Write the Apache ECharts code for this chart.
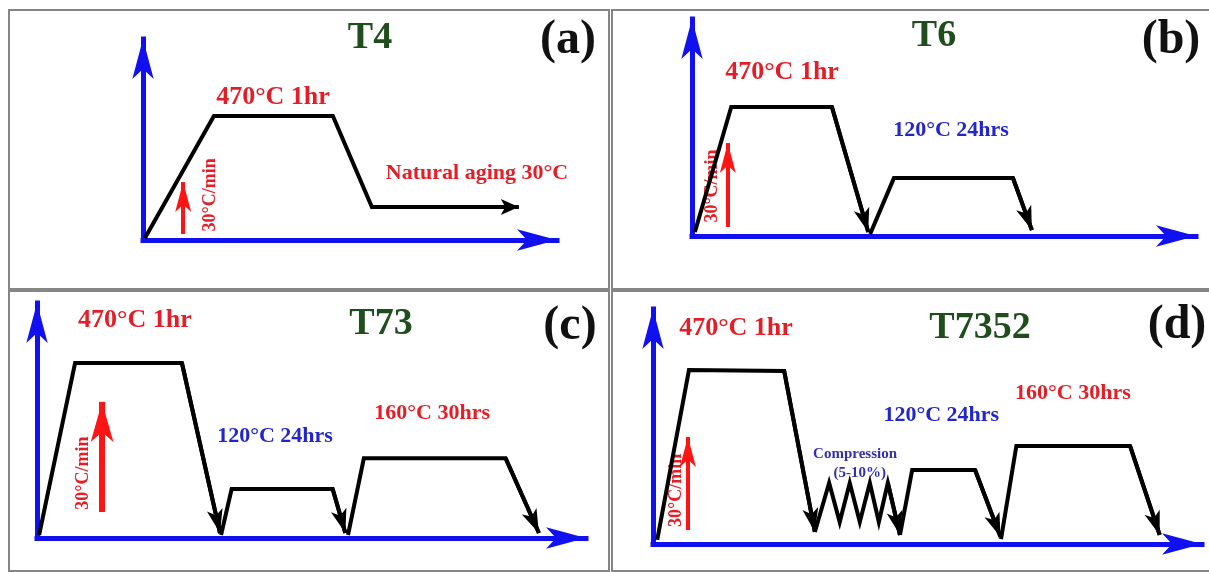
<!DOCTYPE html>
<html><head><meta charset="utf-8">
<script src="https://cdn.jsdelivr.net/npm/echarts@6/dist/echarts.min.js"></script>
<style>html,body{margin:0;padding:0;background:#fff}#c{width:1209px;height:572px}</style>
</head><body><div id="c"></div>
<script>
// ---------------- data (schematic units along each axis) ----------------
const panelNames = ['T4', 'T6', 'T73', 'T7352'];
const panelLetters = ['(a)', '(b)', '(c)', '(d)'];
// axis extents (time, temperature), arrow tip included
const xMax = [105.1, 104.1, 103.8, 103.8];
const yMax = [111.0, 110.2, 109.3, 109.3];

// black heat-treatment strokes (time, temperature); the last point of each stroke is an arrow tip
const strokesA = [
  [[0.5, 1.1], [18.0, 68.5], [48.2, 68.5], [58.1, 18.2], [95.4, 18.2]]
];
const strokesB = [
  [[0.6, 2.0], [8.1, 65.5], [28.9, 65.5], [36.4, 2.0]],
  [[36.8, 1.0], [41.7, 29.4], [66.3, 29.4], [70.2, 3.0]]
];
const strokesC = [
  [[0.4, 1.4], [7.2, 81.4], [27.4, 81.4], [34.6, 2.3]],
  [[34.8, 1.4], [36.8, 22.8], [55.9, 22.8], [58.3, 2.3]],
  [[58.8, 1.4], [61.8, 37.1], [88.6, 37.1], [94.9, 2.3]]
];
const strokesD = [
  [[0.8, 1.9], [6.8, 80.9], [24.8, 80.5], [30.6, 5.6]],
  [[30.6, 5.6], [33.3, 28.4], [35.3, 10.2], [37.2, 28.4], [39.1, 10.2], [41.0, 28.4], [42.7, 10.2], [44.4, 28.4], [46.7, 4.2]],
  [[46.7, 4.2], [49.0, 34.4], [60.9, 34.4], [65.7, 3.3]],
  [[65.8, 2.3], [68.7, 45.6], [90.2, 45.6], [95.8, 4.2]]
];
// red heating-rate arrows: [from, tip]
const rateArrows = [
  [[10.2, 3.3], [10.2, 32.0]],
  [[7.4, 4.6], [7.4, 47.2]],
  [[12.3, 12.1], [12.3, 63.3]],
  [[6.6, 6.5], [6.6, 49.8]]
];
// annotations: [text, time, temperature]
const labelsA = [['470°C 1hr', 33.0, 79.0], ['Natural aging 30°C', 84.8, 37.0], ['30°C/min', 17.0, 24.9]];
const labelsB = [['470°C 1hr', 18.6, 83.2], ['120°C 24hrs', 53.5, 53.8], ['30°C/min', 4.3, 25.4]];
const labelsC = [['470°C 1hr', 18.5, 101.4], ['120°C 24hrs', 45.0, 47.4], ['160°C 30hrs', 74.7, 58.1], ['30°C/min', 8.7, 30.2]];
const labelsD = [['470°C 1hr', 15.7, 100.5], ['120°C 24hrs', 54.5, 60.0], ['160°C 30hrs', 79.4, 70.2],
                 ['Compression', 38.2, 41.9], ['(5-10%)', 39.1, 33.0], ['30°C/min', 4.5, 24.9]];

// ---------------- layout & styles ----------------
const FONT = '"Liberation Serif", "Times New Roman", serif';
const RED = '#e41e26', BLUE_T = '#2226cc', COMP = '#3330b0', GREEN = '#1f4d1c', AXIS = '#1010f0';
const grids = [
  {left: 143, top: 39, width: 414, height: 201},
  {left: 692, top: 19, width: 504, height: 217},
  {left: 37, top: 303, width: 549, height: 235},
  {left: 653, top: 309, width: 549, height: 235}
];
const titlePos = [[370, 38], [934, 36], [381, 324], [980, 328]];
const letterPos = [[568, 41], [1171, 41], [570, 327], [1177, 326]];
const frames = [[9, 10, 600, 279], [612, 10, 600, 279], [9, 291, 600, 280], [612, 291, 600, 280]];

function labelStyle(t) {
  const base = {show: true, position: 'inside', fontFamily: FONT, fontWeight: 'bold', textBorderWidth: 0, opacity: 1, formatter: t};
  if (t === '470°C 1hr') return Object.assign(base, {color: RED, fontSize: 26});
  if (t === '160°C 30hrs') return Object.assign(base, {color: RED, fontSize: 22});
  if (t === 'Natural aging 30°C') return Object.assign(base, {color: RED, fontSize: 22});
  if (t === '120°C 24hrs') return Object.assign(base, {color: BLUE_T, fontSize: 22});
  if (t === '30°C/min') return Object.assign(base, {color: RED, fontSize: 18, rotate: 90});
  return Object.assign(base, {color: COMP, fontSize: 15});
}

const allStrokes = [strokesA, strokesB, strokesC, strokesD];
const allLabels = [labelsA, labelsB, labelsC, labelsD];
const axisLine = {show: true, onZero: false, symbol: ['none', 'arrow'], symbolSize: [16, 40],
  lineStyle: {color: AXIS, width: 5, cap: 'square'}};
const axisCommon = {type: 'value', min: 0, axisLine: axisLine, axisTick: {show: false},
  axisLabel: {show: false}, splitLine: {show: false}};

const series = [];
allStrokes.forEach((strokes, i) => {
  strokes.forEach(s => {
    series.push({type: 'line', xAxisIndex: i, yAxisIndex: i, data: s, symbol: 'none', clip: false, silent: true,
      lineStyle: {color: '#000', width: 4, join: 'miter'}, z: 3});
  });
  series.push({type: 'lines', coordinateSystem: 'cartesian2d', xAxisIndex: i, yAxisIndex: i, silent: true, z: 4,
    data: strokes.map(s => ({coords: [s[s.length - 2], s[s.length - 1]]})),
    symbol: ['none', 'arrow'], symbolSize: [[1, 1], i === 0 ? [12, 18] : [12, 24]],
    lineStyle: {color: '#000', width: 4, opacity: 1, curveness: 0}, itemStyle: {color: '#000'}});
  series.push({type: 'lines', coordinateSystem: 'cartesian2d', xAxisIndex: i, yAxisIndex: i, silent: true, z: 4,
    data: [{coords: rateArrows[i]}],
    symbol: ['none', 'arrow'], symbolSize: [[1, 1], i === 2 ? [17, 40] : [12, 30]],
    lineStyle: {color: '#ff1414', width: i === 2 ? 6 : 4, opacity: 1, curveness: 0}, itemStyle: {color: '#ff1414'}});
  series.push({type: 'scatter', xAxisIndex: i, yAxisIndex: i, silent: true, clip: false, z: 2,
    symbol: 'circle', symbolSize: 0.1, itemStyle: {color: 'rgba(0,0,0,0)', opacity: 1},
    data: allLabels[i].map(l => ({value: [l[1], l[2]], name: l[0], label: labelStyle(l[0])}))});
});

const graphic = [];
frames.forEach(f => graphic.push({type: 'rect', silent: true, z: 0,
  shape: {x: f[0], y: f[1], width: f[2], height: f[3]}, style: {fill: 'none', stroke: '#858585', lineWidth: 2}}));
panelNames.forEach((n, i) => graphic.push({type: 'text', x: titlePos[i][0], y: titlePos[i][1], silent: true,
  style: {text: n, fill: GREEN, font: 'bold 38px ' + FONT, align: 'center', verticalAlign: 'middle'}}));
panelLetters.forEach((n, i) => graphic.push({type: 'text', x: letterPos[i][0], y: letterPos[i][1], silent: true,
  style: {text: n, fill: '#111', font: 'bold 48px ' + FONT, align: 'center', verticalAlign: 'middle'}}));

const chart = echarts.init(document.getElementById('c'));
chart.setOption({
  backgroundColor: '#fff',
  animation: false,
  grid: grids,
  xAxis: grids.map((g, i) => Object.assign({gridIndex: i, max: xMax[i]}, axisCommon)),
  yAxis: grids.map((g, i) => Object.assign({gridIndex: i, max: yMax[i]}, axisCommon)),
  series: series,
  graphic: graphic
});
</script></body></html>
